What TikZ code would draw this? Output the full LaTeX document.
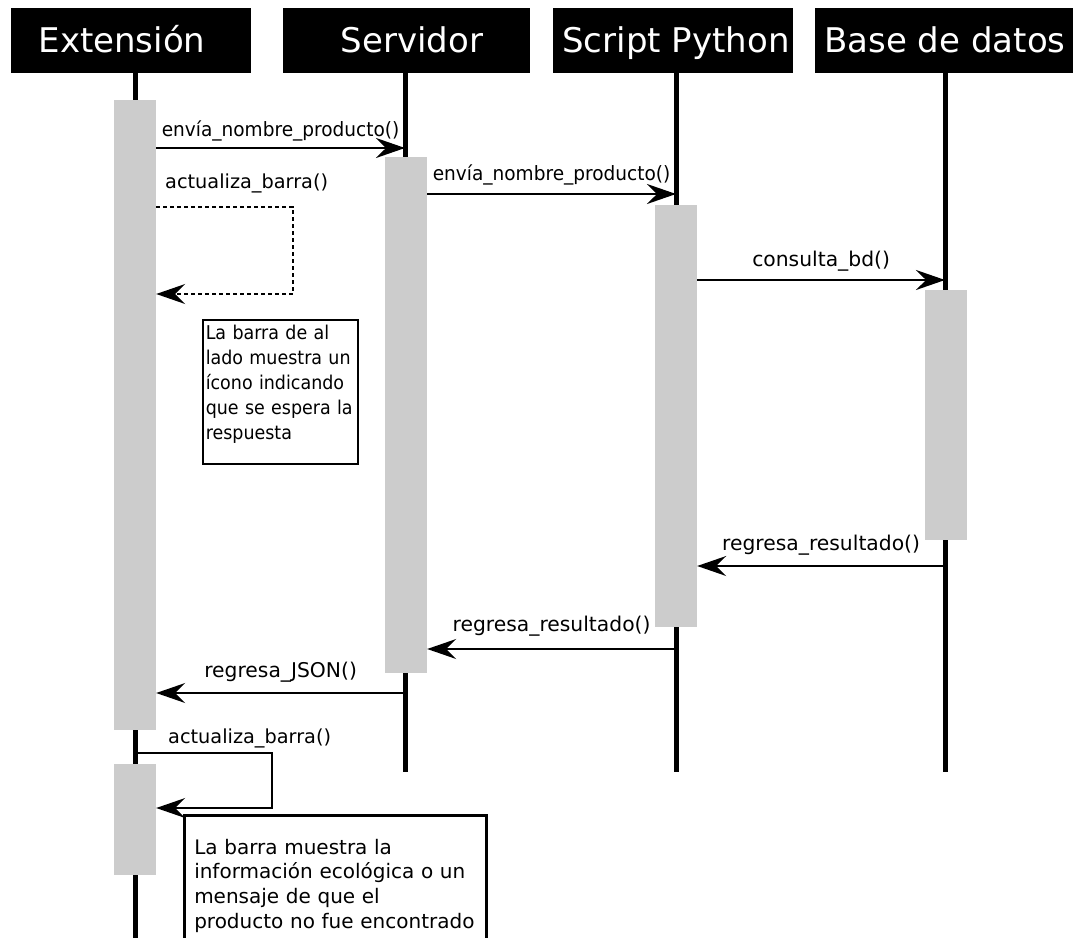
\documentclass[tikz,border=0pt]{standalone}
\usepackage{fontspec}
\setmainfont{DejaVu Sans}
\newfontfamily\narrowfont[FakeStretch=0.92]{DejaVu Sans}
\newfontfamily\slimfont[FakeStretch=0.94]{DejaVu Sans}
\usetikzlibrary{arrows.meta}

\begin{document}
\begin{tikzpicture}[x=1pt,y=-1pt,
head/.style={fill=black,text=white,minimum height=65pt,inner sep=0pt,font=\fontsize{34}{40}\selectfont,text height=24.5pt,text depth=0pt},
life/.style={line width=5pt},
actbar/.style={fill=black!20,minimum width=42pt,inner sep=0pt,anchor=north},
msg/.style={line width=1.5pt,-{Stealth[length=29pt,width=20pt,inset=10pt]}},
lbl/.style={font=\fontsize{20.3}{24}\selectfont,inner sep=0pt,text depth=0pt},
lblsmall/.style={lbl,font=\slimfont\fontsize{19.7}{23}\selectfont},
lblloop/.style={lbl,font=\fontsize{19.3}{23}\selectfont,anchor=base west},
hintone/.style={draw,line width=1.5pt,anchor=north west,align=left,text width=149pt,inner xsep=3pt,inner ysep=5.5pt,text height=14.5pt,text depth=118.5pt,font=\narrowfont\fontsize{19}{25}\selectfont},
hinttwo/.style={draw,line width=2.5pt,anchor=north west,align=left,text width=282pt,inner xsep=10pt,inner ysep=24pt,text height=15pt,text depth=80pt,font=\fontsize{20}{24.6}\selectfont}]
\useasboundingbox (0,0) rectangle (1073,937);
\node[head,minimum width=240pt] (ext) at (131,40) {\hspace*{-18pt}Extensión}; \node[head,minimum width=247pt] (serv) at (406,40) {\hspace*{12pt}Servidor};
\node[head,minimum width=240pt] (py) at (673,40) {\hspace*{6pt}Script Python}; \node[head,minimum width=260pt] (bd) at (945,40) {Base de datos};
\coordinate (extend) at (135,940); \coordinate (servend) at (405,772); \coordinate (pyend) at (676,772); \coordinate (bdend) at (945,772);
\draw[life] (ext.south -| extend) -- (extend); \draw[life] (serv.south -| servend) -- (servend); \draw[life] (py.south -| pyend) -- (pyend); \draw[life] (bd.south) -- (bdend);
\node[actbar,minimum height=630pt] (extact) at (135,100) {}; \node[actbar,minimum height=111pt] (extacttwo) at (135,764) {};
\node[actbar,minimum height=516pt] (servact) at (406,157) {}; \node[actbar,minimum height=422pt] (pyact) at (676,205) {};
\node[actbar,minimum height=250pt] (bdact) at (946,290) {};
\coordinate (mone) at (405,148); \draw[msg] (extact.east |- mone) -- (mone) node[lblsmall,midway,above=11pt] (lone) {envía\_nombre\_producto()};
\coordinate (mtwo) at (676,194); \draw[msg] (servact.east |- mtwo) -- (mtwo) node[lblsmall,midway,above=12.5pt] (ltwo) {envía\_nombre\_producto()};
\coordinate (mthree) at (945,280); \draw[msg] (pyact.east |- mthree) -- (mthree) node[lbl,midway,above=13pt] (lthree) {consulta\_bd()};
\coordinate (mfour) at (945,566); \draw[msg] (mfour) -- (pyact.east |- mfour) node[lbl,midway,above=15pt] (lfour) {regresa\_resultado()};
\coordinate (mfive) at (676,649); \draw[msg] (mfive) -- (servact.east |- mfive) node[lbl,midway,above=17pt] (lfive) {regresa\_resultado()};
\coordinate (msix) at (405,693); \draw[msg] (msix) -- (extact.east |- msix) node[lbl,midway,above=15pt] (lsix) {regresa\_JSON()};
\coordinate (loopa) at (293,207); \coordinate (loopb) at (293,294);
\draw[msg,dash pattern=on 4pt off 3pt] (extact.east |- loopa) -- (loopa) -- (loopb) -- (extact.east |- loopb);
\node[lblloop] (lloopa) at (165,188) {actualiza\_barra()};
\coordinate (loopc) at (272,753); \coordinate (loopd) at (272,808);
\draw[msg] (extend |- loopc) -- (loopc) -- (loopd) -- (extacttwo.east |- loopd);
\node[lblloop] (lloopb) at (168,743) {actualiza\_barra()};
\node[hintone] (hintbar) at (202,319) {La barra de al\\lado muestra un\\ícono indicando\\que se espera la\\respuesta};
\node[hinttwo] (hintinfo) at (183,814) {La barra muestra la\\información ecológica o un\\mensaje de que el\\producto no fue encontrado};
\end{tikzpicture}
\end{document}
